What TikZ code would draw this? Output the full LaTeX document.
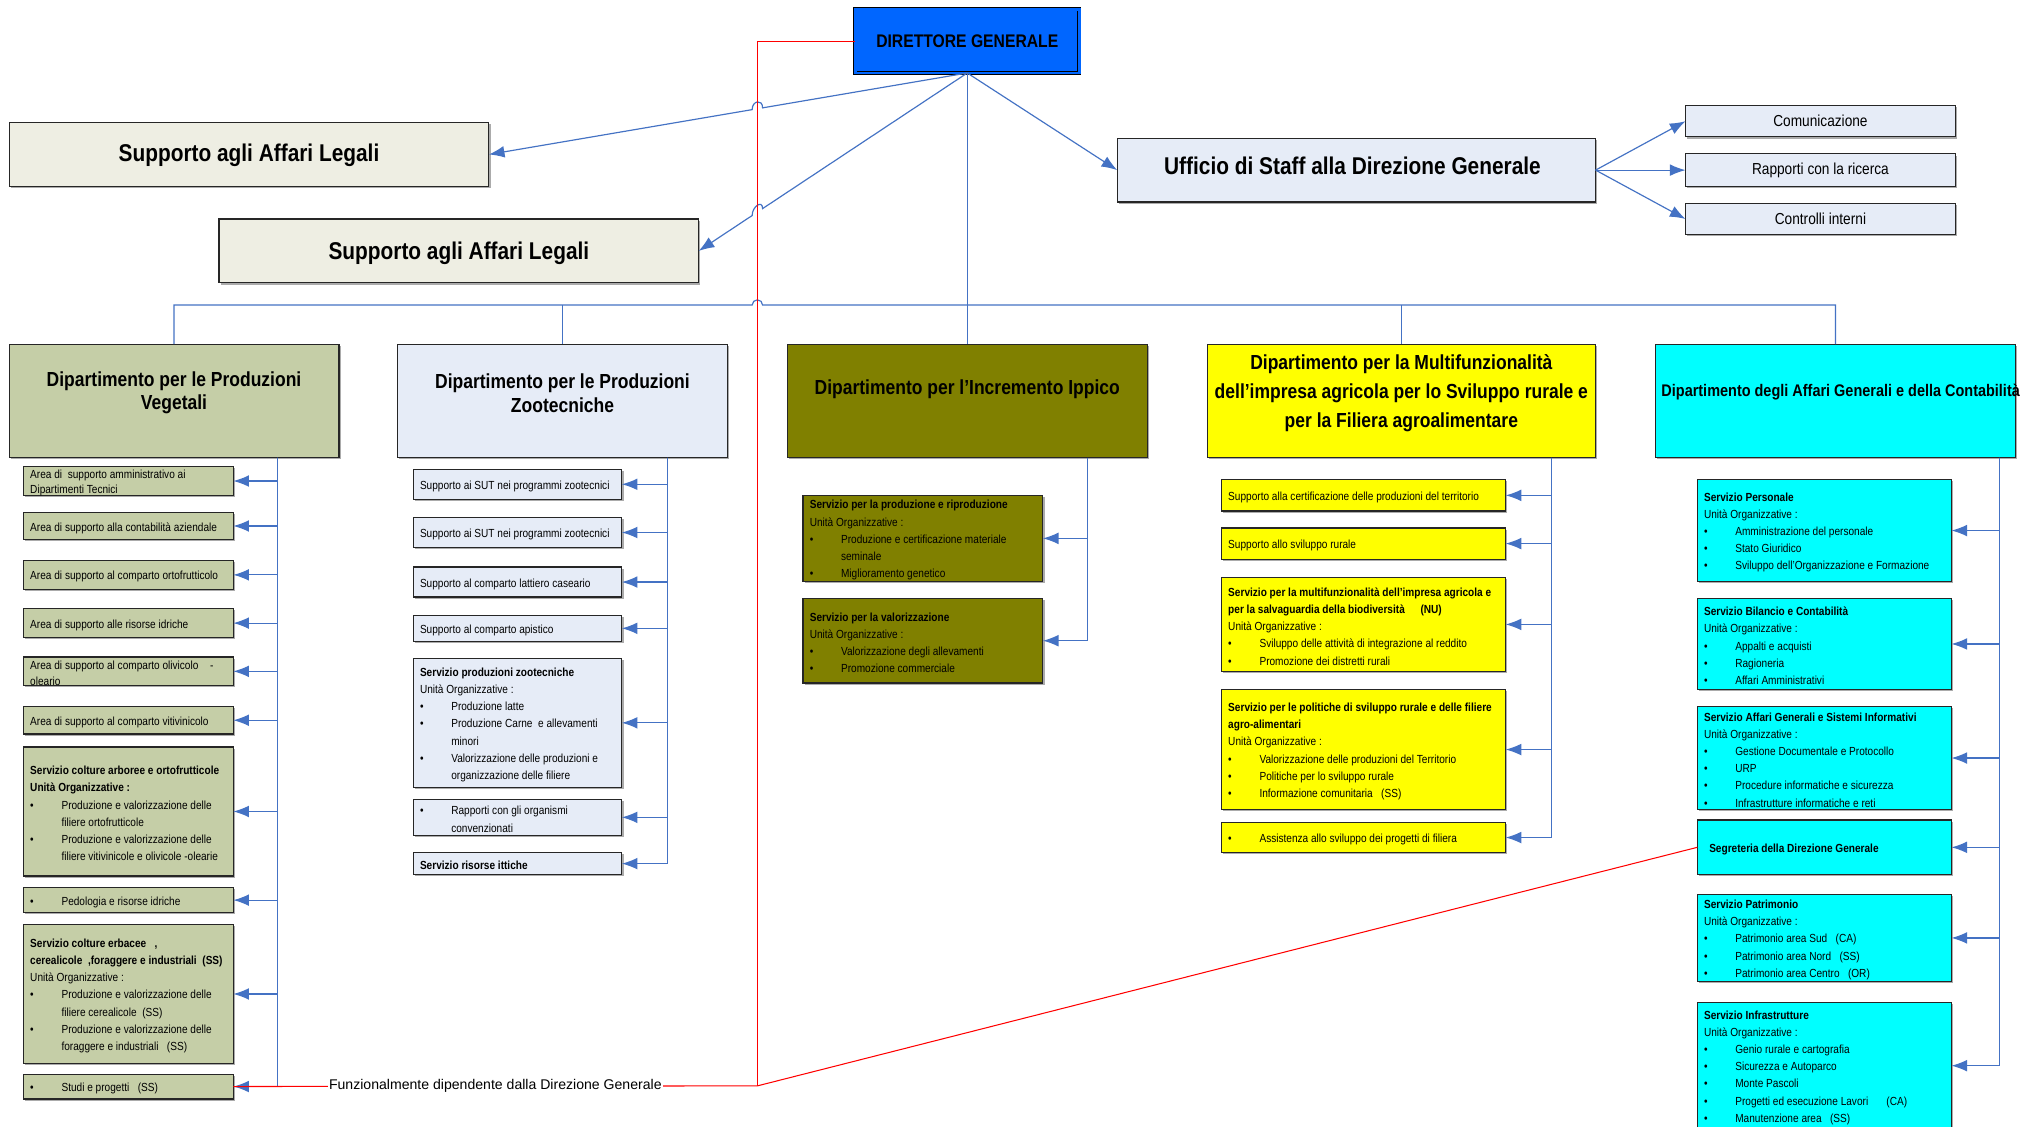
\documentclass[tikz,border=0pt]{standalone}
\usepackage{fontspec}
\setmainfont{Liberation Sans}[FakeStretch=0.86]
\newfontfamily\plainsans{Liberation Sans}
\usetikzlibrary{arrows.meta,calc,shadows}
\definecolor{dgblue}{RGB}{0,102,255}
\definecolor{beige}{RGB}{238,238,227}
\definecolor{lblue}{RGB}{230,236,247}
\definecolor{sage}{RGB}{197,206,167}
\definecolor{olive}{RGB}{128,128,0}
\definecolor{yel}{RGB}{255,255,0}
\definecolor{cyn}{RGB}{0,255,255}
\definecolor{lnblue}{RGB}{68,114,196}
\tikzset{
  bx/.style={draw=black!85, line width=0.9pt, outer sep=0pt, inner sep=0pt,
    drop shadow={shadow xshift=1.3pt, shadow yshift=-1.3pt, fill=black!55, opacity=0.6}},
  txt/.style={align=left, inner sep=0pt, font=\fontsize{9}{13.2}\selectfont},
  hdr/.style={align=center, inner sep=0pt, font=\bfseries\fontsize{15.6}{18}\selectfont},
  ln/.style={draw=lnblue, line width=0.9pt},
  arr/.style={ln, -{Latex[length=12pt,width=9pt]}},
  rd/.style={draw=red, line width=0.8pt},
}
\newcommand\bul[1]{\makebox[24pt][l]{\textbullet}#1}
\newcommand\bcont[1]{\hspace*{24pt}#1}
\newcommand\cbox[8][]{%
  \node[bx, fill=#7, anchor=north west, minimum width=#5pt, minimum height=#6pt] (#2) at (#3,#4) {};
  \node[txt, anchor=west, #1] (#2t) at ($(#2.west)+(5,1.5)$) {#8};
}
\begin{document}
\begin{tikzpicture}[x=1pt, y=-1pt]
\useasboundingbox (0,0) rectangle (1568,864);
\fill[white] (0,0) rectangle (1568,864);

% ---------- top level ----------
\node[draw=black, line width=0.5pt, double=dgblue, double distance=2.2pt, fill=dgblue, outer sep=0pt,
  anchor=north west, minimum width=172pt, minimum height=49pt,
  drop shadow={shadow xshift=1.3pt, shadow yshift=-1.3pt, fill=black!55, opacity=0.6},
  font=\bfseries\fontsize{14}{16}\selectfont] (dg) at (656,7) {DIRETTORE GENERALE};

\node[bx, fill=beige, anchor=north west, minimum width=368pt, minimum height=49pt] (sup1) at (7,94) {};
\node[inner sep=0pt, font=\bfseries\fontsize{18.6}{22}\selectfont] (sup1t) at ($(sup1.center)+(0,1)$) {Supporto agli Affari Legali};
\node[bx, fill=beige, anchor=north west, minimum width=368pt, minimum height=49pt] (sup2) at (168,168) {};
\node[inner sep=0pt, font=\bfseries\fontsize{18.6}{22}\selectfont] (sup2t) at ($(sup2.center)+(0,1.5)$) {Supporto agli Affari Legali};
\node[bx, fill=lblue, anchor=north west, minimum width=367pt, minimum height=49pt] (uff) at (857,106) {};
\node[inner sep=0pt, font=\bfseries\fontsize{18.6}{22}\selectfont] (ufft) at ($(uff.center)+(-3,-3)$) {Ufficio di Staff alla Direzione Generale};

\node[bx, fill=lblue, anchor=north west, minimum width=207pt, minimum height=24pt,
  font=\fontsize{12.2}{14}\selectfont] (s1) at (1293,81) {Comunicazione};
\node[bx, fill=lblue, anchor=north west, minimum width=207pt, minimum height=25pt,
  font=\fontsize{12.2}{14}\selectfont] (s2) at (1293,118) {Rapporti con la ricerca};
\node[bx, fill=lblue, anchor=north west, minimum width=207pt, minimum height=24pt,
  font=\fontsize{12.2}{14}\selectfont] (s3) at (1293,156) {Controlli interni};

% ---------- departments ----------
\node[bx, fill=sage, anchor=north west, minimum width=253pt, minimum height=87pt] (veg) at (7,264) {};
\node[hdr] (vegT) at ($(veg.center)+(0,-6)$) {Dipartimento per le Produzioni\\Vegetali};
\node[bx, fill=lblue, anchor=north west, minimum width=253pt, minimum height=87pt] (zoo) at (305,264) {};
\node[hdr] (zooT) at ($(zoo.center)+(0,-6)$) {Dipartimento per le Produzioni\\Zootecniche};
\node[bx, fill=olive, anchor=north west, minimum width=276pt, minimum height=87pt] (ipp) at (604,264) {};
\node[hdr] (ippT) at ($(ipp.center)+(0,-9)$) {Dipartimento per l’Incremento Ippico};
\node[bx, fill=yel, anchor=north west, minimum width=298pt, minimum height=87pt] (mul) at (926,264) {};
\node[hdr, font=\bfseries\fontsize{15.6}{22}\selectfont] (mulT) at ($(mul.center)+(0,-6)$)
  {Dipartimento per la Multifunzionalità\\dell’impresa agricola per lo Sviluppo rurale e\\per la Filiera agroalimentare};
\node[bx, fill=cyn, anchor=north west, minimum width=276pt, minimum height=87pt] (aff) at (1270,264) {};
\node[hdr, font=\bfseries\fontsize{12.9}{15}\selectfont] (affT) at ($(aff.center)+(4,-7)$)
  {Dipartimento degli Affari Generali e della Contabilità};

% ---------- Produzioni Vegetali ----------
\cbox[font=\fontsize{9}{12}\selectfont]{v1}{18}{358}{161}{22}{sage}{Area di\ \ supporto amministrativo ai\\Dipartimenti Tecnici}
\cbox{v2}{18}{393}{161}{21}{sage}{Area di supporto alla contabilità aziendale}
\cbox{v3}{18}{430}{161}{22}{sage}{Area di supporto al comparto ortofrutticolo}
\cbox{v4}{18}{467}{161}{22}{sage}{Area di supporto alle risorse idriche}
\cbox[font=\fontsize{9}{12}\selectfont]{v5}{18}{504}{161}{22}{sage}{Area di supporto al comparto olivicolo\hspace{9pt}-\\oleario}
\cbox{v6}{18}{542}{161}{21}{sage}{Area di supporto al comparto vitivinicolo}
\cbox{v7}{18}{573}{161}{99}{sage}{\textbf{Servizio colture arboree e ortofrutticole}\\
  \textbf{Unità Organizzative :}\\
  \bul{Produzione e valorizzazione delle}\\
  \bcont{filiere ortofrutticole}\\
  \bul{Produzione e valorizzazione delle}\\
  \bcont{filiere vitivinicole e olivicole -olearie}}
\cbox{v8}{18}{681}{161}{19}{sage}{\bul{Pedologia e risorse idriche}}
\cbox{v9}{18}{709}{161}{107}{sage}{\textbf{Servizio colture erbacee\ \ \ ,}\\
  \textbf{cerealicole\ \ ,foraggere e industriali\ \ (SS)}\\
  Unità Organizzative :\\
  \bul{Produzione e valorizzazione delle}\\
  \bcont{filiere cerealicole\ \ (SS)}\\
  \bul{Produzione e valorizzazione delle}\\
  \bcont{foraggere e industriali\ \ \ (SS)}}
\cbox{v10}{18}{824}{161}{19}{sage}{\bul{Studi e progetti\ \ \ (SS)}}

% ---------- Produzioni Zootecniche ----------
\cbox{z1}{317}{360}{160}{23}{lblue}{Supporto ai SUT nei programmi zootecnici}
\cbox{z2}{317}{397}{160}{23}{lblue}{Supporto ai SUT nei programmi zootecnici}
\cbox{z3}{317}{435}{160}{23}{lblue}{Supporto al comparto lattiero caseario}
\cbox{z4}{317}{472}{160}{20}{lblue}{Supporto al comparto apistico}
\cbox{z5}{317}{505}{160}{99}{lblue}{\textbf{Servizio produzioni zootecniche}\\
  Unità Organizzative :\\
  \bul{Produzione latte}\\
  \bul{Produzione Carne\ \ e allevamenti}\\
  \bcont{minori}\\
  \bul{Valorizzazione delle produzioni e}\\
  \bcont{organizzazione delle filiere}}
\cbox{z6}{317}{613}{160}{28}{lblue}{\bul{Rapporti con gli organismi}\\\bcont{convenzionati}}
\cbox{z7}{317}{654}{160}{17}{lblue}{\textbf{Servizio risorse ittiche}}

% ---------- Incremento Ippico ----------
\cbox{i1}{616}{380}{184}{66}{olive}{\textbf{Servizio per la produzione e riproduzione}\\
  Unità Organizzative :\\
  \bul{Produzione e certificazione materiale}\\
  \bcont{seminale}\\
  \bul{Miglioramento genetico}}
\cbox{i2}{616}{459}{184}{65}{olive}{\textbf{Servizio per la valorizzazione}\\
  Unità Organizzative :\\
  \bul{Valorizzazione degli allevamenti}\\
  \bul{Promozione commerciale}}

% ---------- Multifunzionalita ----------
\cbox{m1}{937}{368}{218}{24}{yel}{Supporto alla certificazione delle produzioni del territorio}
\cbox{m2}{937}{405}{218}{24}{yel}{Supporto allo sviluppo rurale}
\cbox{m3}{937}{443}{218}{72}{yel}{\textbf{Servizio per la multifunzionalità dell’impresa agricola e}\\
  \textbf{per la salvaguardia della biodiversità\hspace{12pt}(NU)}\\
  Unità Organizzative :\\
  \bul{Sviluppo delle attività di integrazione al reddito}\\
  \bul{Promozione dei distretti rurali}}
\cbox{m4}{937}{529}{218}{92}{yel}{\textbf{Servizio per le politiche di sviluppo rurale e delle filiere}\\
  \textbf{agro-alimentari}\\
  Unità Organizzative :\\
  \bul{Valorizzazione delle produzioni del Territorio}\\
  \bul{Politiche per lo sviluppo rurale}\\
  \bul{Informazione comunitaria\ \ \ (SS)}}
\cbox{m5}{937}{631}{218}{23}{yel}{\bul{Assistenza allo sviluppo dei progetti di filiera}}

% ---------- Affari Generali ----------
\cbox{a1}{1302}{368}{195}{78}{cyn}{\textbf{Servizio Personale}\\
  Unità Organizzative :\\
  \bul{Amministrazione del personale}\\
  \bul{Stato Giuridico}\\
  \bul{Sviluppo dell’Organizzazione e Formazione}}
\cbox{a2}{1302}{459}{195}{70}{cyn}{\textbf{Servizio Bilancio e Contabilità}\\
  Unità Organizzative :\\
  \bul{Appalti e acquisti}\\
  \bul{Ragioneria}\\
  \bul{Affari Amministrativi}}
\cbox{a3}{1302}{542}{195}{79}{cyn}{\textbf{Servizio Affari Generali e Sistemi Informativi}\\
  Unità Organizzative :\\
  \bul{Gestione Documentale e Protocollo}\\
  \bul{URP}\\
  \bul{Procedure informatiche e sicurezza}\\
  \bul{Infrastrutture informatiche e reti}}
\cbox{a4}{1302}{629}{195}{42}{cyn}{\hspace*{4pt}\textbf{Segreteria della Direzione Generale}}
\cbox{a5}{1302}{686}{195}{67}{cyn}{\textbf{Servizio Patrimonio}\\
  Unità Organizzative :\\
  \bul{Patrimonio area Sud\ \ \ (CA)}\\
  \bul{Patrimonio area Nord\ \ \ (SS)}\\
  \bul{Patrimonio area Centro\ \ \ (OR)}}
\cbox{a6}{1302}{769}{195}{97}{cyn}{\textbf{Servizio Infrastrutture}\\
  Unità Organizzative :\\
  \bul{Genio rurale e cartografia}\\
  \bul{Sicurezza e Autoparco}\\
  \bul{Monte Pascoli}\\
  \bul{Progetti ed esecuzione Lavori\hspace{14pt}(CA)}\\
  \bul{Manutenzione area\ \ \ (SS)}}

% ---------- connectors from the director ----------
\coordinate (bus) at (0,234);
\coordinate (redC) at (581,833);
\draw[arr] (dg.south) -- ($(dg.south)!0.4278!(sup1.east)$)
  .. controls +(0,-7) and +(0,-7) .. ($(dg.south)!0.4496!(sup1.east)$) -- (sup1.east);
\draw[arr] (dg.south) -- ($(dg.south)!0.7621!(sup2.east)$)
  .. controls +(0,-7) and +(0,-7) .. ($(dg.south)!0.8010!(sup2.east)$) -- (sup2.east);
\draw[arr] (dg.south) -- (uff.west);
\draw[ln] (dg.south) -- (ipp.north);
\draw[ln] (veg.north) -- (veg.north |- bus) -- (577,234)
  arc[start angle=180, end angle=0, radius=4pt] -- (aff.north |- bus) -- (aff.north);
\draw[ln] (zoo.north |- bus) -- (zoo.north);
\draw[ln] (mul.north |- bus) -- (mul.north);

% staff
\draw[arr] (uff.east) -- (s1.west);
\draw[arr] (uff.east) -- (s2.west);
\draw[arr] (uff.east) -- (s3.west);

% ---------- department trunks ----------
\coordinate (vegS) at (213,351);
\coordinate (zooS) at (512,351);
\coordinate (ippS) at (834,351);
\coordinate (mulS) at (1190,351);
\coordinate (affS) at (1534,351);
\foreach \c in {v1,v2,v3,v4,v5,v6,v7,v8,v9,v10} \draw[arr] (vegS) |- (\c.east);
\foreach \c in {z1,z2,z3,z4,z5,z6,z7} \draw[arr] (zooS) |- (\c.east);
\foreach \c in {i1,i2} \draw[arr] (ippS) |- (\c.east);
\foreach \c in {m1,m2,m3,m4,m5} \draw[arr] (mulS) |- (\c.east);
\foreach \c in {a1,a2,a3,a4,a5,a6} \draw[arr] (affS) |- (\c.east);

% ---------- functional dependence (red) ----------
\draw[rd] (dg.west) -| (redC);
\draw[rd] (redC) -- node[fill=white, inner sep=1pt, font=\plainsans\fontsize{10.8}{12}\selectfont] (fdl)
  {Funzionalmente dipendente dalla Direzione Generale} (v10.east);
\draw[rd] (redC) -- (a4.west);
\end{tikzpicture}
\end{document}
